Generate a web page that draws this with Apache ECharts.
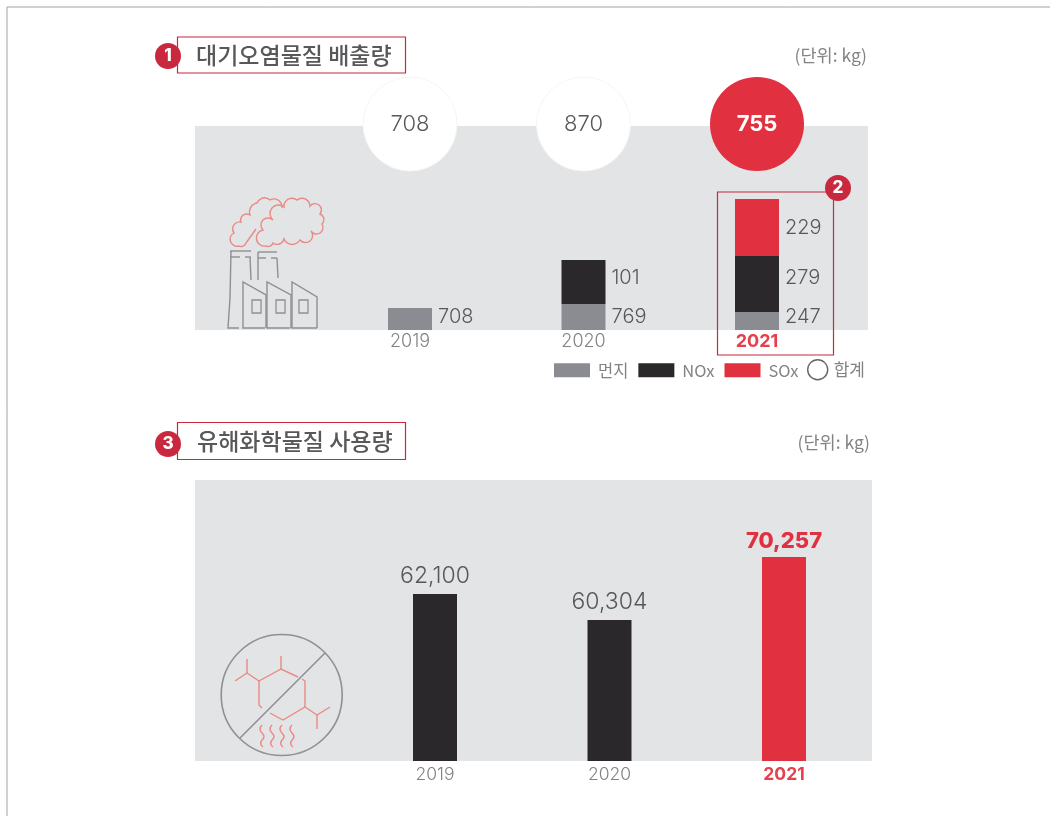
<!DOCTYPE html>
<html><head><meta charset="utf-8">
<style>html,body{margin:0;padding:0;background:#fff}#c{width:1050px;height:816px}</style>
<script src="https://cdn.jsdelivr.net/npm/echarts@6/dist/echarts.min.js"></script>
</head><body><div id="c"></div>
<script>
// Tick labels
const years = ['2019', '2020', '2021'];
// Values printed in the reference
const dustPrinted = [708, 769, 247];
const noxPrinted = [null, 101, 279];
const soxPrinted = [null, null, 229];
const totalsPrinted = [708, 870, 755];
const chemPrinted = ['62,100', '60,304', '70,257'];
// The reference's bars are not proportional to their printed values, so these
// are the drawn heights (units: reference bar height).
const dustDrawn = [22, 26, 18];
const noxDrawn = [null, 44, 56];
const soxDrawn = [null, null, 57];
const chemDrawn = [167, 141, 204];

const GREY = '#8a8c92', BLACK = '#2a282a', RED = '#e1303f', BADGE = '#c9283f';
const PANEL = '#e2e4e6', TXT = '#58585a', SOFT = '#828386', SALMON = '#e98a84', ICON = '#8f9093';
const KR = '"Noto Sans CJK KR"', NUM = 'Inter';
const CIRCLE_ROW = 206;

const chart = echarts.init(document.getElementById('c'), null, {renderer: 'canvas'});

const axisYears = years.map((y, i) => i === 2
  ? {value: y, textStyle: {color: '#e5404c', fontWeight: 700}} : {value: y});

function stack(name, drawn, printed, color, nudges) {
  return {
    name, type: 'bar', stack: 'air', xAxisIndex: 0, yAxisIndex: 0, barWidth: 44,
    data: drawn.map((v, i) => ({value: v, label: {offset: [0, nudges[i]]}})),
    itemStyle: {color},
    label: {show: true, position: 'right', distance: 6, fontFamily: NUM, fontSize: 20, fontWeight: 300, color: TXT,
      formatter: p => printed[p.dataIndex] == null ? '' : String(printed[p.dataIndex])}
  };
}

function line(points, stroke, lw) {
  return {type: 'polyline', silent: true, shape: {points}, style: {stroke: stroke, fill: null, lineWidth: lw || 1.4}};
}
let shapeCount = 0;
function path(d, stroke, lw) {
  const name = 'iconPath' + (shapeCount++);
  echarts.graphic.registerShape(name, echarts.graphic.extendPath(d, {}));
  return {type: name, silent: true, style: {stroke, fill: null, lineWidth: lw || 1.4}};
}
function box(x, y, w, h) {
  return {type: 'rect', silent: true, shape: {x, y, width: w, height: h}, style: {stroke: BADGE, fill: null, lineWidth: 1.2}};
}
function badge(cx, cy, n) {
  return [
    {type: 'circle', silent: true, shape: {cx, cy, r: 13}, style: {fill: BADGE}},
    {type: 'text', silent: true, x: cx, y: cy, style: {text: n, fill: '#fff', font: '800 17px ' + NUM, align: 'center', verticalAlign: 'middle'}}
  ];
}
function txt(x, y, t, font, fill, align) {
  return {type: 'text', silent: true, x, y, style: {text: t, font, fill, align: align || 'left', verticalAlign: 'middle'}};
}

const factory = [
  line([[230,251],[251,251]], ICON), line([[230,257],[240,257]], ICON), line([[245,257],[251,257]], ICON),
  line([[231,251],[230,298],[228,328],[239,328]], ICON), line([[250,257],[251,280]], ICON),
  line([[258,252],[277,252]], ICON), line([[258,258],[266,258]], ICON), line([[271,258],[277,258]], ICON),
  line([[258,252],[258,280]], ICON), line([[277,258],[278,278]], ICON),
  line([[265,328],[243,328],[243,282],[266,295],[266,328]], ICON),
  line([[290,328],[267,328],[267,282],[291,295],[291,328]], ICON),
  line([[317,328],[292,328],[292,282],[317,297],[317,328]], ICON),
  {type:'rect',silent:true,shape:{x:252,y:300,width:9,height:13},style:{stroke:ICON,fill:null,lineWidth:1.3}},
  {type:'rect',silent:true,shape:{x:276,y:300,width:9,height:13},style:{stroke:ICON,fill:null,lineWidth:1.3}},
  {type:'rect',silent:true,shape:{x:299,y:300,width:9,height:13},style:{stroke:ICON,fill:null,lineWidth:1.3}}
];
function arcs(points, r) {
  return 'M' + points[0].join(' ') + points.slice(1).map((p, i) => {
    const rr = r[i % r.length];
    return ` A${rr} ${rr} 0 0 1 ${p[0]} ${p[1]}`;
  }).join('');
}
const clouds = [
  path(arcs([[239,246],[234,233],[241,222],[250,215],[257,203],[270,200],[282,208]],[7,7,6,9,8,8])+' M256 229 L251 236 L246 243 A5 5 0 0 1 239 246', SALMON),
  path(arcs([[266,246],[263,230],[273,220],[284,207],[297,200],[310,206],[320,214],[322,224],[311,231],[300,240],[284,239],[273,243],[266,246]],[8,7,8,8,8,6,6,6,7,9,7,5]), SALMON)
];
function wave(x) {
  return path(`M${x} 725 q-4 4 0 8 q4 4 0 7 q-3 4 1 7`, SALMON);
}
const molecule = [
  line([[235,681],[247,673],[259,681],[281,669],[298,677]], SALMON),
  line([[247,659],[247,673]], SALMON), line([[281,656],[281,669]], SALMON),
  line([[259,681],[259,705],[262,708]], SALMON),
  line([[270,713],[283,720],[305,707],[317,715],[330,707]], SALMON),
  line([[305,681],[305,707]], SALMON), line([[302,679],[305,681]], SALMON),
  line([[317,715],[317,729]], SALMON),
  wave(262), wave(272), wave(282), wave(292),
  {type:'circle',silent:true,shape:{cx:281.7,cy:695,r:60.5},style:{stroke:ICON,fill:null,lineWidth:1.6}},
  line([[240,738],[325,653]], ICON, 1.6)
];

chart.setOption({
  animation: false,
  backgroundColor: '#fff',
  textStyle: {fontFamily: KR},
  grid: [
    {left: 323.25, width: 520.5, top: 70, height: 260},
    {left: 347.75, width: 523.5, top: 480, height: 281}
  ],
  xAxis: [
    {gridIndex: 0, type: 'category', data: axisYears, axisLine: {show: false}, axisTick: {show: false},
      axisLabel: {margin: 3, fontFamily: NUM, fontSize: 18, fontWeight: 300, color: SOFT}},
    {gridIndex: 1, type: 'category', data: axisYears, axisLine: {show: false}, axisTick: {show: false},
      axisLabel: {margin: 5, fontFamily: NUM, fontSize: 17.5, fontWeight: 300, color: SOFT}}
  ],
  yAxis: [
    {gridIndex: 0, type: 'value', min: 0, max: 260, show: false},
    {gridIndex: 1, type: 'value', min: 0, max: 281, show: false}
  ],
  legend: [
    {left: 554, top: 360, padding: [2, 0, 2, 0], itemWidth: 36, itemHeight: 14, itemGap: 10, icon: 'rect',
      data: ['먼지', 'NOx', 'SOx'], textStyle: {fontFamily: KR, fontSize: 16.5, color: SOFT, padding: [0, 0, 0, 3]}, selectedMode: false},
    {left: 807, top: 357, padding: [2, 0, 2, 0], itemWidth: 22, itemHeight: 20, itemGap: 0, icon: 'circle',
      data: [{name: '합계', itemStyle: {color: '#fff', borderColor: '#666', borderWidth: 1.4}}],
      textStyle: {fontFamily: KR, fontSize: 17, color: SOFT}, selectedMode: false}
  ],
  series: [
    stack('먼지', dustDrawn, dustPrinted, GREY, [-2, 0, -4]),
    stack('NOx', noxDrawn, noxPrinted, BLACK, [0, -4, -6]),
    stack('SOx', soxDrawn, soxPrinted, RED, [0, 0, 0]),
    {name: '합계', type: 'scatter', xAxisIndex: 0, yAxisIndex: 0, symbol: 'circle', symbolSize: 94, clip: false, z: 3,
      itemStyle: {color: '#fff', opacity: 1},
      data: years.map((y, i) => ({
        value: [i, CIRCLE_ROW],
        itemStyle: i === 2 ? {color: RED} : {color: '#fff', borderColor: '#f5f5f5', borderWidth: 1},
        label: i === 2 ? {color: '#fff', fontWeight: 700} : {color: TXT, fontWeight: 300}
      })),
      label: {show: true, position: 'inside', fontFamily: NUM, fontSize: 22,
        formatter: p => String(totalsPrinted[p.dataIndex])}
    },
    {name: '유해화학물질', type: 'bar', xAxisIndex: 1, yAxisIndex: 1, barWidth: 44,
      data: chemDrawn.map((v, i) => ({value: v,
        itemStyle: {color: i === 2 ? RED : BLACK},
        label: i === 2 ? {color: RED, fontWeight: 800, fontSize: 22, distance: 5} : {color: TXT, fontWeight: 300, fontSize: 23, distance: 6}
      })),
      label: {show: true, position: 'top', fontFamily: NUM,
        formatter: p => chemPrinted[p.dataIndex]}
    }
  ],
  graphic: {elements: [
    line([[7,816],[7,7],[1050,7]], '#a99f96', 1),
    {type:'rect',silent:true,shape:{x:195,y:126,width:673,height:204},style:{fill:PANEL}},
    {type:'rect',silent:true,shape:{x:195,y:480,width:677,height:281},style:{fill:PANEL}},
    box(177.5,37,228,36), box(717.5,192,116,163), box(177.5,422.5,228,37),
    ...badge(168,56,'1'), ...badge(838,188,'2'), ...badge(168,444,'3'),
    txt(196,55,'대기오염물질 배출량','500 23px '+KR,TXT),
    txt(197,441,'유해화학물질 사용량','500 23px '+KR,TXT),
    txt(867,55,'(단위: kg)','400 17.5px '+KR,SOFT,'right'),
    txt(870,442,'(단위: kg)','400 17.5px '+KR,SOFT,'right'),
    ...factory, ...clouds, ...molecule
  ]}
});
</script></body></html>
